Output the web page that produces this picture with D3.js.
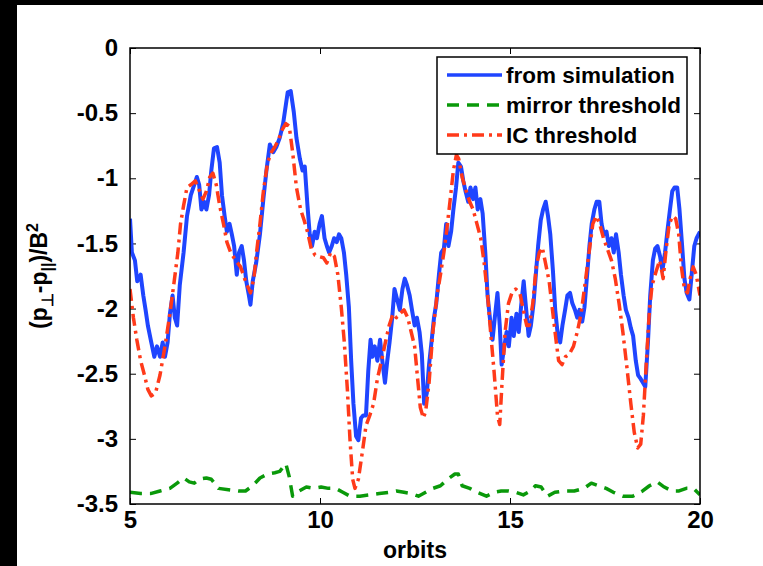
<!DOCTYPE html>
<html>
<head>
<meta charset="utf-8">
<script src="https://cdn.jsdelivr.net/npm/d3@7"></script>
<style>
  body { margin: 0; background: #fff; }
  text { font-family: "Liberation Sans", Arial, sans-serif; font-weight: bold; fill: #000; }
</style>
</head>
<body>
<div id="chart"></div>
<script>
// series: [orbits, (p_perp - p_par)/B^2]
var simPts = [[5.00,-1.31],[5.05,-1.57],[5.13,-1.63],[5.19,-1.79],[5.28,-1.74],[5.35,-1.90],[5.41,-2.01],[5.47,-2.13],[5.56,-2.26],[5.64,-2.37],[5.71,-2.29],[5.79,-2.37],[5.86,-2.26],[5.92,-2.37],[5.99,-2.26],[6.05,-2.04],[6.12,-1.90],[6.18,-2.07],[6.24,-2.13],[6.31,-1.82],[6.41,-1.57],[6.50,-1.29],[6.60,-1.13],[6.69,-1.05],[6.76,-0.99],[6.82,-1.05],[6.88,-1.24],[6.95,-1.18],[7.01,-1.24],[7.08,-1.13],[7.14,-0.94],[7.21,-0.77],[7.29,-0.76],[7.36,-0.88],[7.42,-1.13],[7.49,-1.29],[7.55,-1.41],[7.62,-1.35],[7.68,-1.43],[7.74,-1.52],[7.81,-1.74],[7.87,-1.57],[7.94,-1.52],[8.00,-1.63],[8.06,-1.79],[8.13,-1.90],[8.17,-1.97],[8.23,-1.79],[8.32,-1.65],[8.42,-1.43],[8.51,-1.16],[8.59,-0.94],[8.68,-0.74],[8.77,-0.80],[8.85,-0.76],[8.94,-0.69],[9.03,-0.58],[9.10,-0.44],[9.15,-0.34],[9.23,-0.33],[9.31,-0.49],[9.38,-0.69],[9.47,-0.85],[9.54,-0.94],[9.60,-0.91],[9.67,-1.21],[9.73,-1.43],[9.79,-1.52],[9.86,-1.41],[9.92,-1.46],[9.99,-1.35],[10.05,-1.29],[10.12,-1.46],[10.18,-1.52],[10.24,-1.57],[10.31,-1.52],[10.37,-1.46],[10.44,-1.49],[10.50,-1.43],[10.56,-1.46],[10.63,-1.57],[10.69,-1.74],[10.76,-1.99],[10.82,-2.40],[10.88,-2.73],[10.95,-2.98],[11.01,-3.01],[11.08,-2.84],[11.14,-2.82],[11.21,-2.82],[11.27,-2.48],[11.33,-2.24],[11.38,-2.37],[11.44,-2.29],[11.51,-2.40],[11.58,-2.24],[11.64,-2.40],[11.71,-2.57],[11.77,-2.40],[11.83,-2.26],[11.90,-2.07],[11.96,-1.85],[12.03,-1.93],[12.10,-2.01],[12.17,-1.85],[12.23,-1.77],[12.29,-1.82],[12.36,-1.90],[12.42,-2.01],[12.49,-2.13],[12.55,-2.07],[12.62,-2.18],[12.68,-2.35],[12.74,-2.73],[12.81,-2.65],[12.87,-2.43],[12.94,-2.24],[13.00,-2.07],[13.06,-1.96],[13.13,-1.74],[13.19,-1.57],[13.26,-1.54],[13.32,-1.35],[13.38,-1.52],[13.45,-1.41],[13.51,-1.24],[13.58,-1.07],[13.64,-0.88],[13.71,-0.91],[13.77,-1.02],[13.83,-1.10],[13.90,-1.18],[13.96,-1.07],[14.03,-1.16],[14.09,-1.07],[14.15,-1.24],[14.22,-1.16],[14.28,-1.27],[14.35,-1.57],[14.41,-1.90],[14.47,-2.07],[14.54,-2.24],[14.60,-2.07],[14.67,-1.88],[14.73,-2.13],[14.78,-2.43],[14.85,-2.29],[14.91,-2.18],[14.97,-2.29],[15.04,-2.07],[15.10,-2.21],[15.17,-2.04],[15.23,-2.18],[15.29,-1.99],[15.36,-1.79],[15.42,-1.99],[15.49,-2.21],[15.55,-2.13],[15.62,-1.96],[15.68,-1.74],[15.74,-1.52],[15.81,-1.32],[15.87,-1.24],[15.94,-1.18],[16.00,-1.29],[16.06,-1.43],[16.13,-1.71],[16.19,-2.01],[16.26,-2.21],[16.32,-2.26],[16.38,-2.13],[16.45,-2.01],[16.51,-1.90],[16.58,-1.88],[16.64,-1.96],[16.71,-2.01],[16.77,-2.07],[16.83,-2.01],[16.90,-2.10],[16.96,-1.99],[17.03,-1.74],[17.09,-1.52],[17.15,-1.35],[17.22,-1.24],[17.28,-1.18],[17.35,-1.18],[17.41,-1.35],[17.47,-1.43],[17.54,-1.41],[17.60,-1.52],[17.67,-1.46],[17.73,-1.57],[17.79,-1.43],[17.86,-1.57],[17.92,-1.74],[17.99,-1.90],[18.05,-2.01],[18.12,-2.07],[18.18,-2.15],[18.24,-2.21],[18.31,-2.40],[18.37,-2.51],[18.44,-2.54],[18.50,-2.57],[18.56,-2.60],[18.63,-2.26],[18.69,-1.90],[18.76,-1.63],[18.82,-1.54],[18.88,-1.52],[18.95,-1.60],[19.01,-1.71],[19.08,-1.57],[19.14,-1.41],[19.21,-1.24],[19.27,-1.10],[19.33,-1.07],[19.40,-1.07],[19.46,-1.24],[19.53,-1.52],[19.59,-1.77],[19.65,-1.88],[19.72,-1.93],[19.78,-1.74],[19.85,-1.52],[19.91,-1.46],[20.00,-1.41]];

var mirrorPts = [[5.00,-3.41],[5.28,-3.42],[5.54,-3.42],[5.79,-3.40],[6.05,-3.38],[6.24,-3.34],[6.41,-3.30],[6.56,-3.33],[6.69,-3.34],[6.82,-3.31],[7.01,-3.30],[7.14,-3.31],[7.33,-3.38],[7.59,-3.39],[7.85,-3.40],[8.04,-3.40],[8.23,-3.36],[8.42,-3.30],[8.62,-3.27],[8.81,-3.26],[8.94,-3.25],[9.10,-3.19],[9.19,-3.29],[9.28,-3.44],[9.45,-3.40],[9.64,-3.37],[9.83,-3.38],[10.03,-3.37],[10.22,-3.38],[10.41,-3.38],[10.60,-3.41],[10.79,-3.44],[11.05,-3.44],[11.31,-3.43],[11.56,-3.42],[11.82,-3.41],[12.01,-3.40],[12.21,-3.41],[12.40,-3.42],[12.59,-3.44],[12.78,-3.41],[12.97,-3.38],[13.17,-3.36],[13.36,-3.31],[13.55,-3.27],[13.64,-3.27],[13.74,-3.36],[13.94,-3.38],[14.13,-3.41],[14.38,-3.44],[14.58,-3.41],[14.77,-3.40],[14.96,-3.40],[15.15,-3.41],[15.35,-3.43],[15.54,-3.40],[15.67,-3.36],[15.82,-3.37],[15.99,-3.44],[16.18,-3.41],[16.44,-3.40],[16.69,-3.40],[16.95,-3.38],[17.14,-3.34],[17.33,-3.36],[17.53,-3.38],[17.72,-3.41],[17.97,-3.44],[18.23,-3.44],[18.49,-3.40],[18.67,-3.36],[18.87,-3.33],[19.06,-3.37],[19.26,-3.40],[19.45,-3.40],[19.64,-3.38],[19.83,-3.38],[20.00,-3.43]];

var icPts = [[5.00,-1.85],[5.09,-2.07],[5.18,-2.24],[5.28,-2.40],[5.38,-2.51],[5.47,-2.62],[5.56,-2.67],[5.67,-2.65],[5.79,-2.51],[5.92,-2.29],[6.05,-2.04],[6.15,-1.82],[6.26,-1.57],[6.33,-1.35],[6.41,-1.21],[6.50,-1.07],[6.60,-1.05],[6.72,-1.02],[6.82,-1.09],[6.92,-1.16],[7.01,-1.10],[7.10,-0.99],[7.18,-0.96],[7.27,-1.05],[7.36,-1.21],[7.46,-1.35],[7.55,-1.49],[7.65,-1.57],[7.78,-1.63],[7.91,-1.68],[8.04,-1.79],[8.17,-1.88],[8.26,-1.77],[8.33,-1.57],[8.42,-1.35],[8.51,-1.10],[8.62,-0.88],[8.72,-0.80],[8.81,-0.76],[8.90,-0.71],[9.00,-0.63],[9.10,-0.58],[9.19,-0.60],[9.28,-0.80],[9.38,-1.07],[9.49,-1.24],[9.58,-1.32],[9.67,-1.41],[9.77,-1.54],[9.87,-1.59],[9.96,-1.60],[10.09,-1.61],[10.18,-1.65],[10.28,-1.57],[10.38,-1.60],[10.47,-1.74],[10.56,-1.99],[10.64,-2.26],[10.72,-2.62],[10.79,-3.01],[10.86,-3.31],[10.92,-3.38],[11.01,-3.31],[11.12,-3.09],[11.21,-2.90],[11.31,-2.82],[11.41,-2.73],[11.51,-2.54],[11.62,-2.40],[11.72,-2.26],[11.82,-2.13],[11.92,-2.04],[12.01,-2.07],[12.10,-2.04],[12.21,-2.01],[12.31,-2.07],[12.40,-2.18],[12.49,-2.29],[12.56,-2.51],[12.64,-2.76],[12.72,-2.84],[12.78,-2.79],[12.87,-2.57],[12.97,-2.18],[13.08,-1.90],[13.17,-1.74],[13.26,-1.57],[13.33,-1.41],[13.42,-1.18],[13.51,-0.94],[13.59,-0.82],[13.65,-0.85],[13.74,-0.99],[13.85,-1.10],[13.94,-1.18],[14.03,-1.24],[14.13,-1.35],[14.23,-1.46],[14.32,-1.65],[14.41,-1.90],[14.49,-2.18],[14.58,-2.48],[14.67,-2.82],[14.73,-2.89],[14.79,-2.57],[14.87,-2.18],[14.96,-1.96],[15.05,-1.88],[15.15,-1.85],[15.26,-1.88],[15.35,-2.01],[15.44,-2.13],[15.51,-2.13],[15.60,-1.96],[15.69,-1.68],[15.77,-1.57],[15.85,-1.53],[15.92,-1.63],[16.03,-1.79],[16.13,-2.04],[16.21,-2.24],[16.28,-2.40],[16.37,-2.43],[16.46,-2.37],[16.56,-2.35],[16.67,-2.29],[16.77,-2.18],[16.87,-2.04],[16.97,-1.82],[17.08,-1.57],[17.18,-1.35],[17.27,-1.29],[17.36,-1.35],[17.46,-1.46],[17.56,-1.54],[17.67,-1.63],[17.77,-1.77],[17.87,-1.96],[17.97,-2.18],[18.08,-2.46],[18.18,-2.73],[18.27,-2.95],[18.36,-3.07],[18.44,-3.04],[18.51,-2.82],[18.59,-2.40],[18.67,-2.01],[18.74,-1.82],[18.85,-1.71],[18.94,-1.63],[19.03,-1.77],[19.10,-1.57],[19.19,-1.35],[19.28,-1.29],[19.36,-1.31],[19.44,-1.43],[19.51,-1.68],[19.59,-1.85],[19.67,-1.88],[19.74,-1.77],[19.82,-1.68],[19.90,-1.74],[20.00,-1.90]];

var xTicks = [5, 10, 15, 20];
var yTicks = [0, -0.5, -1, -1.5, -2, -2.5, -3, -3.5];
var seriesNames = ["from simulation", "mirror threshold", "IC threshold"];
var seriesColors = ["#1f45ff", "#0a990a", "#ff3a1a"];
var seriesDash = [null, "12,8", "12,5,3,5"];

var W = 763, H = 566;
var pLeft = 130, pRight = 700, pTop = 48, pBottom = 504;

var svg = d3.select("#chart").append("svg")
  .attr("width", W)
  .attr("height", H);

svg.append("rect").attr("width", W).attr("height", H).attr("fill", "#fff");
// black edges of the screenshot
svg.append("rect").attr("x", 0).attr("y", 0).attr("width", 17).attr("height", H).attr("fill", "#000");
svg.append("rect").attr("x", 0).attr("y", 0).attr("width", W).attr("height", 5).attr("fill", "#000");

var x = d3.scaleLinear().domain([5, 20]).range([pLeft, pRight]);
var y = d3.scaleLinear().domain([-3.5, 0]).range([pBottom, pTop]);

svg.append("clipPath").attr("id", "clip")
  .append("rect")
  .attr("x", pLeft).attr("y", pTop)
  .attr("width", pRight - pLeft).attr("height", pBottom - pTop);

// axes, ticks pointing inward on all four sides
var tk = 6;
var gB = svg.append("g").attr("transform", "translate(0," + pBottom + ")")
  .call(d3.axisBottom(x).tickValues(xTicks).tickSize(-tk).tickPadding(7).tickFormat(d3.format("d")));
var gT = svg.append("g").attr("transform", "translate(0," + pTop + ")")
  .call(d3.axisTop(x).tickValues(xTicks).tickSize(-tk).tickFormat(""));
var gL = svg.append("g").attr("transform", "translate(" + pLeft + ",0)")
  .call(d3.axisLeft(y).tickValues(yTicks).tickSize(-tk).tickPadding(12).tickFormat(function(d){ return String(d); }));
var gR = svg.append("g").attr("transform", "translate(" + pRight + ",0)")
  .call(d3.axisRight(y).tickValues(yTicks).tickSize(-tk).tickFormat(""));

[gB, gT, gL, gR].forEach(function(g){
  g.select(".domain").remove();
  g.selectAll(".tick line").attr("stroke", "#000").attr("stroke-width", 1);
  g.selectAll("text")
    .style("font-family", "'Liberation Sans', Arial, sans-serif")
    .style("font-weight", "bold")
    .style("font-size", "24px")
    .attr("fill", "#000");
});

var line = d3.line()
  .x(function(d){ return x(d[0]); })
  .y(function(d){ return y(d[1]); });

var plot = svg.append("g").attr("clip-path", "url(#clip)");
var allSeries = [simPts, mirrorPts, icPts];
var widths = [4, 3.5, 3.5];
allSeries.forEach(function(s, i){
  plot.append("path")
    .datum(s)
    .attr("d", line)
    .attr("fill", "none")
    .attr("stroke", seriesColors[i])
    .attr("stroke-width", widths[i])
    .attr("stroke-linejoin", "round")
    .attr("stroke-dasharray", seriesDash[i]);
});

// frame
svg.append("rect")
  .attr("x", pLeft).attr("y", pTop)
  .attr("width", pRight - pLeft).attr("height", pBottom - pTop)
  .attr("fill", "none").attr("stroke", "#000").attr("stroke-width", 1.5);

// legend
var lg = svg.append("g");
lg.append("rect")
  .attr("x", 437).attr("y", 57).attr("width", 250).attr("height", 97)
  .attr("fill", "#fff").attr("stroke", "#000").attr("stroke-width", 1.5);
seriesNames.forEach(function(name, i){
  var ly = 75 + i * 30;
  lg.append("line")
    .attr("x1", 447).attr("x2", 502).attr("y1", ly).attr("y2", ly)
    .attr("stroke", seriesColors[i]).attr("stroke-width", 3.5)
    .attr("stroke-dasharray", seriesDash[i]);
  lg.append("text")
    .attr("x", 506).attr("y", ly + 8)
    .style("font-size", "22.5px")
    .text(name);
});

// axis titles
svg.append("text")
  .attr("x", (pLeft + pRight) / 2).attr("y", 558)
  .attr("text-anchor", "middle")
  .style("font-size", "23px")
  .text("orbits");

var yl = svg.append("text")
  .attr("transform", "translate(47," + ((pTop + pBottom) / 2) + ") rotate(-90)")
  .attr("text-anchor", "middle")
  .style("font-size", "23px");
yl.append("tspan").text("(p");
yl.append("tspan").attr("dy", 6).style("font-size", "16px").text("\u22A5");
yl.append("tspan").attr("dy", -6).text("-p");
yl.append("tspan").attr("dy", 6).style("font-size", "16px").text("||");
yl.append("tspan").attr("dy", -6).text(")/B");
yl.append("tspan").attr("dy", -9).style("font-size", "16px").text("2");
</script>
</body>
</html>
